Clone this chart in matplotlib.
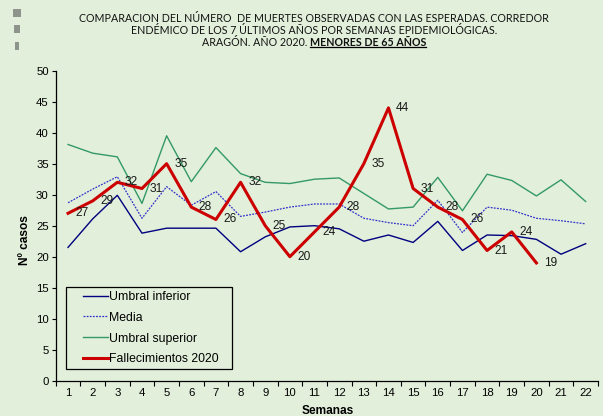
import matplotlib
matplotlib.use('Agg')
import matplotlib.pyplot as plt
from matplotlib.lines import Line2D
from matplotlib.patches import Rectangle
from matplotlib.legend_handler import HandlerLine2D

# Data (weeks 1-22, deaths only up to week 20)
semanas = list(range(1, 23))
umbral_inferior = [21.5, 26.1, 29.9, 23.8, 24.6, 24.6, 24.6, 20.8, 23.2, 24.8, 25.0,
                   24.5, 22.5, 23.5, 22.3, 25.7, 21.0, 23.5, 23.4, 22.8, 20.4, 22.1]
media = [28.7, 30.9, 32.9, 26.2, 31.3, 28.3, 30.5, 26.5, 27.2, 28.0, 28.5,
         28.5, 26.2, 25.5, 25.0, 29.1, 23.9, 28.0, 27.5, 26.2, 25.8, 25.3]
umbral_superior = [38.1, 36.7, 36.1, 28.6, 39.5, 32.1, 37.6, 33.4, 32.0, 31.8, 32.5,
                   32.7, 30.2, 27.7, 28.0, 32.8, 27.4, 33.3, 32.3, 29.8, 32.4, 28.9]
fallecimientos = [27, 29, 32, 31, 35, 28, 26, 32, 25, 20, 24, 28, 35, 44, 31, 28, 26, 21, 24, 19]

bg = '#E2EFDA'
W, H = 603, 416

fig = plt.figure(figsize=(W / 100, H / 100), dpi=100, facecolor=bg)
ax = fig.add_axes([55.7 / W, 1 - 380.7 / H, 542.3 / W, 310 / H], facecolor=bg)

ax.plot(semanas, umbral_inferior, color='#000080', lw=1.0, label='Umbral inferior')
ax.plot(semanas, media, color='#3333CC', lw=0.9, ls=(0, (1.5, 1)), label='Media')
ax.plot(semanas, umbral_superior, color='#339966', lw=1.0, label='Umbral superior')
sem_f = semanas[:len(fallecimientos)]
ax.plot(sem_f, fallecimientos, color='#CC0000', lw=2.2, label='Fallecimientos 2020')

# value labels to the right of each point
for x, v in zip(sem_f, fallecimientos):
    ax.annotate(str(v), (x, v), xytext=(5.5, 0), textcoords='offset points',
                ha='left', va='center', fontsize=8.6, family='Liberation Sans', color='#1a1a1a')

ax.set_xlim(0.5, 22.5)
ax.set_ylim(0, 50)
ax.set_yticks(range(0, 51, 5))
ax.set_xticks([i + 0.5 for i in range(0, 23)])
ax.set_xticklabels([])
ax.set_xticks(semanas, minor=True)
ax.set_xticklabels([str(s) for s in semanas], minor=True)
ax.tick_params(axis='x', which='major', length=3.5, width=0.8, direction='out')
ax.tick_params(axis='x', which='minor', length=0, pad=5, labelsize=8.2)
ax.tick_params(axis='y', length=3, width=0.8, direction='out', labelsize=8.2, pad=2)
for lab in ax.get_xticklabels(minor=True) + ax.get_yticklabels():
    lab.set_family('Liberation Sans')
for s in ['top', 'right']:
    ax.spines[s].set_visible(False)
for s in ['left', 'bottom']:
    ax.spines[s].set_linewidth(0.9)
    ax.spines[s].set_color('black')

# legend: short handles indented from the frame, frame stretched to Excel's box
hshift = HandlerLine2D(xpad=1.1)
leg = ax.legend(loc='lower left', bbox_to_anchor=(0.0184, 0.0377, 0.3067, 0.26),
                mode='expand', borderaxespad=0,
                prop={'family': 'Liberation Sans', 'size': 8.8}, fancybox=False,
                framealpha=1, facecolor=bg, edgecolor='black', handlelength=3.15,
                handletextpad=0.1, labelspacing=0.72, borderpad=0.3,
                handler_map={Line2D: hshift})
leg.get_frame().set_linewidth(0.9)

fig.text(328 / W, 1 - 411 / H, 'Semanas', ha='center', va='center', fontsize=8.6,
         fontweight='bold', family='Liberation Sans')
fig.text(25 / W, 1 - 240 / H, 'Nº casos', ha='center', va='center', rotation=90,
         fontsize=8.6, fontweight='bold', family='Liberation Sans')

# title, three lines, last part bold and underlined
tfont = dict(family='Lato', fontsize=7.63, color='#111111')
fig.text(314 / W, 1 - 22 / H, 'COMPARACION DEL NÚMERO  DE MUERTES OBSERVADAS CON LAS ESPERADAS. CORREDOR',
         ha='center', va='baseline', **tfont)
fig.text(314 / W, 1 - 33.8 / H, 'ENDÉMICO DE LOS 7 ÚLTIMOS AÑOS POR SEMANAS EPIDEMIOLÓGICAS.',
         ha='center', va='baseline', **tfont)
t1 = fig.text(0, 1 - 45.5 / H, 'ARAGÓN. AÑO 2020. ', ha='left', va='baseline', **tfont)
t2 = fig.text(0, 1 - 45.5 / H, 'MENORES DE 65 AÑOS', ha='left', va='baseline',
              fontweight='bold', **tfont)
r = fig.canvas.get_renderer()
w1 = t1.get_window_extent(r).width
w2 = t2.get_window_extent(r).width
x0 = 314 - (w1 + w2) / 2
t1.set_x(x0 / W)
t2.set_x((x0 + w1) / W)
fig.add_artist(Line2D([(x0 + w1) / W, (x0 + w1 + w2) / W], [1 - 47 / H, 1 - 47 / H],
                      color='black', lw=0.9, transform=fig.transFigure))

# small grey marks in the top left corner
for (x, y, w, h) in [(13, 9, 8, 8), (14, 25, 6, 8), (15, 42, 4, 8)]:
    fig.add_artist(Rectangle((x / W, 1 - (y + h) / H), w / W, h / H,
                             transform=fig.transFigure, color='#8E948C', lw=0))

fig.savefig('out.png', dpi=100, facecolor=bg)
